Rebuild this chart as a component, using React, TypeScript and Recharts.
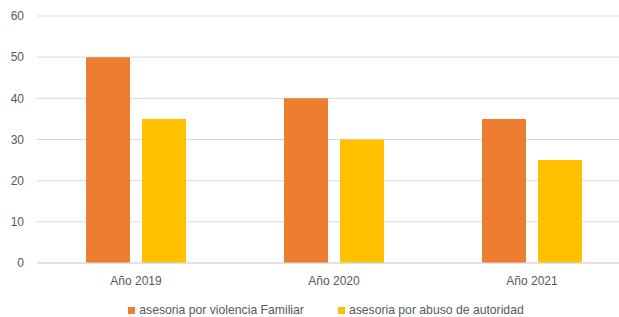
import { BarChart, Bar, XAxis, YAxis, CartesianGrid } from 'recharts'

// Values
const years = ['Año 2019', 'Año 2020', 'Año 2021']
const violenciaFamiliar = [50, 40, 35]
const abusoAutoridad = [35, 30, 25]
const yTicks = [0, 10, 20, 30, 40, 50, 60]

const SERIES = [
  { key: 'violencia', name: 'asesoria por violencia Familiar', color: '#ED7D31' },
  { key: 'abuso', name: 'asesoria por abuso de autoridad', color: '#FFC000' }
]

const chartData = years.map((year, i) => ({
  year,
  violencia: violenciaFamiliar[i],
  abuso: abusoAutoridad[i]
}))

const FONT = '"Liberation Sans", Arial, sans-serif'
const TEXT = '#595959'

// legend drawn as plain html under the plot, centred on the plot area
function LegendRow() {
  return (
    <div
      style={{
        position: 'absolute',
        top: 302,
        left: 37,
        width: 578,
        display: 'flex',
        justifyContent: 'center',
        fontFamily: FONT,
        fontSize: 12.2,
        color: TEXT,
        height: 16,
        lineHeight: '16px'
      }}
    >
      {SERIES.map((s, i) => (
        <div key={s.key} style={{ display: 'flex', alignItems: 'center', marginLeft: i === 0 ? 0 : 34 }}>
          <span style={{ width: 7, height: 7, background: s.color, marginRight: 4, display: 'inline-block' }} />
          <span>{s.name}</span>
        </div>
      ))}
    </div>
  )
}

export default function App() {
  return (
    <div style={{ position: 'relative', width: 619, height: 317, overflow: 'hidden', background: '#fff' }}>
      <style>{'body { margin: 0; }'}</style>
      <BarChart
        width={640}
        height={317}
        data={chartData}
        margin={{ top: 16, right: 9, bottom: 22, left: 0 }}
        barSize={44}
        barGap={12}
      >
        <CartesianGrid vertical={false} stroke="#D9D9D9" />
        <XAxis
          dataKey="year"
          height={32}
          tickLine={false}
          tickSize={0}
          tickMargin={13}
          axisLine={{ stroke: '#D9D9D9' }}
          tick={{ fill: TEXT, fontSize: 12, fontFamily: FONT }}
        />
        <YAxis
          width={37}
          domain={[0, 60]}
          ticks={yTicks}
          axisLine={false}
          tickLine={false}
          tickSize={0}
          tickMargin={13}
          tick={{ fill: TEXT, fontSize: 12, fontFamily: FONT }}
        />
        {SERIES.map(s => (
          <Bar key={s.key} dataKey={s.key} name={s.name} fill={s.color} isAnimationActive={false} />
        ))}
      </BarChart>
      <LegendRow />
    </div>
  )
}
